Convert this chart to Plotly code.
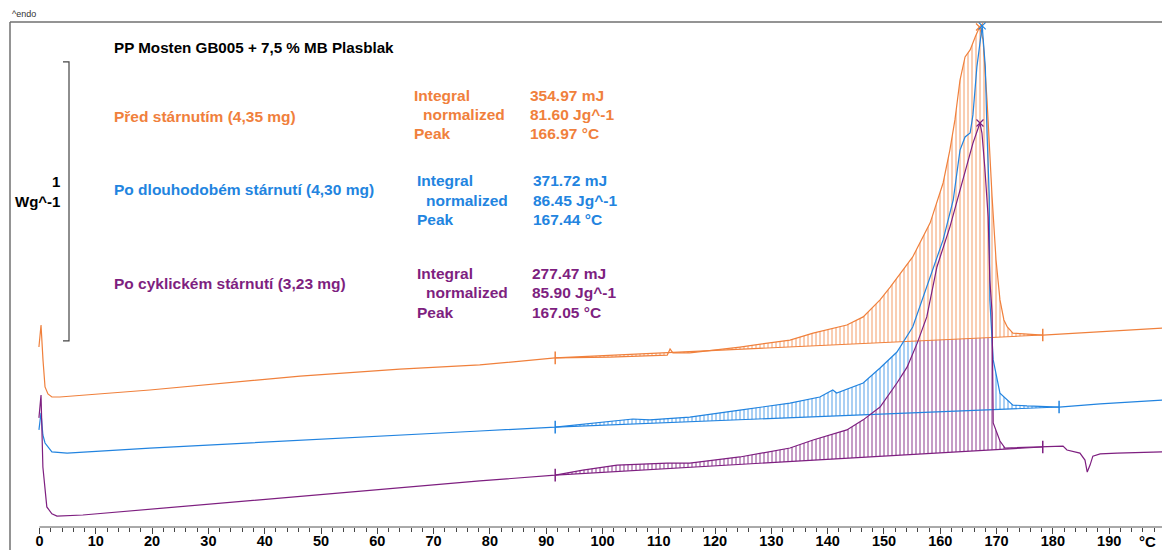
import numpy as np
import plotly.graph_objects as go

# ---------------- data (temperature in °C, heat flow in W/g, offset curves) ----------------
temp_orange = [-0.1, 0.27, 0.62, 0.98, 1.5, 2.2, 3.6, 19.6, 46.3, 64.0, 78.2, 91.6, 101.3, 106.7,
               111.5, 112.0, 112.5, 115.5, 124.4, 133.3, 137.4, 143.4, 146.3, 149.3, 151.1, 155.1,
               158.2, 160.5, 161.7, 162.6, 163.5, 164.4, 165.3, 166.2, 166.97, 167.6, 168.3, 169.2,
               169.9, 170.6, 171.3, 171.9, 172.9, 178.2, 188.4, 199.4]
hf_orange = [0.645, 0.724, 0.599, 0.502, 0.477, 0.466, 0.466, 0.491, 0.541, 0.566, 0.581, 0.606,
             0.609, 0.613, 0.616, 0.638, 0.624, 0.624, 0.645, 0.670, 0.695, 0.724, 0.753, 0.814,
             0.860, 0.968, 1.090, 1.233, 1.351, 1.459, 1.602, 1.685, 1.710, 1.756, 1.792, 1.746,
             1.530, 1.183, 0.957, 0.814, 0.742, 0.717, 0.695, 0.688, 0.699, 0.713]

temp_blue = [-0.1, 0.27, 0.6, 0.98, 2.2, 4.9, 19.6, 46.3, 64.0, 78.2, 91.6, 99.6, 105.4, 108.4,
             115.5, 124.4, 133.3, 138.6, 140.4, 140.9, 141.6, 146.3, 149.3, 152.3, 155.1, 158.2,
             160.5, 162.3, 163.5, 164.4, 165.3, 165.8, 166.5, 167.44, 168.0, 168.3, 168.7, 168.8,
             169.4, 170.6, 172.9, 175.4, 181.1, 188.4, 199.4]
hf_blue = [0.348, 0.409, 0.330, 0.301, 0.269, 0.265, 0.283, 0.312, 0.330, 0.344, 0.358, 0.376,
           0.387, 0.384, 0.394, 0.419, 0.444, 0.466, 0.484, 0.491, 0.480, 0.516, 0.570, 0.627,
           0.717, 0.896, 1.029, 1.172, 1.351, 1.398, 1.412, 1.477, 1.649, 1.796, 1.649, 1.412,
           1.183, 0.814, 0.599, 0.480, 0.437, 0.434, 0.430, 0.441, 0.455]

temp_purple = [-0.1, 0.27, 0.6, 1.3, 2.2, 3.1, 7.7, 46.3, 64.0, 78.2, 91.6, 96.5, 102.6, 111.5,
               115.5, 124.4, 133.3, 137.4, 143.4, 146.3, 149.3, 152.3, 154.1, 155.9, 157.6, 159.4,
               161.7, 163.5, 164.7, 165.8, 167.05, 167.4, 167.9, 168.5, 168.8, 169.2, 169.4, 170.1,
               170.6, 171.5, 178.2, 181.8, 182.5, 184.8, 185.7, 186.1, 186.6, 187.1, 188.4, 191.4,
               199.4]
hf_purple = [0.391, 0.473, 0.215, 0.072, 0.047, 0.039, 0.043, 0.111, 0.140, 0.165, 0.186, 0.204,
             0.222, 0.229, 0.229, 0.251, 0.283, 0.312, 0.348, 0.384, 0.430, 0.516, 0.573, 0.659,
             0.753, 0.932, 1.075, 1.208, 1.290, 1.376, 1.448, 1.412, 1.290, 1.111, 0.885, 0.767,
             0.373, 0.337, 0.308, 0.283, 0.287, 0.290, 0.276, 0.265, 0.240, 0.197, 0.222, 0.254,
             0.262, 0.265, 0.269]

# integration limits and peaks
limits_orange = (91.6, 178.2)
limits_blue = (91.6, 181.1)
limits_purple = (91.6, 178.2)
peak_orange, peak_blue, peak_purple = 166.97, 167.44, 167.05

labels = ["Před stárnutím (4,35 mg)", "Po dlouhodobém stárnutí (4,30 mg)",
          "Po cyklickém stárnutí (3,23 mg)"]
results_keys = ["Integral", "normalized", "Peak"]
results_orange = ["354.97 mJ", "81.60 Jg^-1", "166.97 °C"]
results_blue = ["371.72 mJ", "86.45 Jg^-1", "167.44 °C"]
results_purple = ["277.47 mJ", "85.90 Jg^-1", "167.05 °C"]

tick_vals = list(range(0, 200, 10))
minor_vals = list(range(0, 200, 2))

# ---------------- style ----------------
ORANGE = "#F0803C"
BLUE = "#2284E0"
PURPLE = "#7E1F80"
HATCH = {ORANGE: "rgba(240,128,60,0.7)", BLUE: "rgba(34,132,224,0.7)",
         PURPLE: "rgba(126,31,128,0.8)"}
FONT = "Liberation Sans, Arial, sans-serif"

W, H = 1162, 550
ML, MR, MT, MB = 10, 0, 22, 23
PW, PH = W - ML - MR, H - MT - MB


def pxx(x):
    return (x - ML) / PW


def pxy(y):
    return (H - MB - y) / PH


series = {
    "orange": (temp_orange, hf_orange, ORANGE, limits_orange, peak_orange),
    "blue": (temp_blue, hf_blue, BLUE, limits_blue, peak_blue),
    "purple": (temp_purple, hf_purple, PURPLE, limits_purple, peak_purple),
}

fig = go.Figure()

# hatched integration areas (blue, purple, orange stacking order)
for key in ["blue", "purple", "orange"]:
    T, V, col, (t0, t1), pk = series[key]
    T = np.array(T)
    V = np.array(V)
    m = (T >= t0) & (T <= t1)
    v0 = V[T == t0][0]
    v1 = V[T == t1][0]
    fig.add_trace(go.Scatter(x=[t0, t1], y=[v0, v1], mode="lines", line=dict(width=0, color=col),
                             hoverinfo="skip", showlegend=False))
    fig.add_trace(go.Scatter(x=T[m], y=V[m], mode="lines", line=dict(width=0, color=col),
                             fill="tonexty", fillcolor="white",
                             fillpattern=dict(shape="|", size=4, solidity=0.28,
                                              fgcolor=HATCH[col], bgcolor="white",
                                              fillmode="replace"),
                             hoverinfo="skip", showlegend=False))

# curves, baselines and markers
for key in ["orange", "blue", "purple"]:
    T, V, col, (t0, t1), pk = series[key]
    T = np.array(T)
    V = np.array(V)
    v0 = V[T == t0][0]
    v1 = V[T == t1][0]
    fig.add_trace(go.Scatter(x=T, y=V, mode="lines", line=dict(width=1.2, color=col),
                             showlegend=False))
    fig.add_trace(go.Scatter(x=[t0, t1], y=[v0, v1], mode="lines", line=dict(width=1.1, color=col),
                             showlegend=False))
    fig.add_trace(go.Scatter(x=[t0, t1], y=[v0, v1], mode="markers",
                             marker=dict(symbol="line-ns-open", size=9, color=col,
                                         line=dict(width=1.5, color=col)),
                             showlegend=False))
    fig.add_trace(go.Scatter(x=[pk], y=[V[T == pk][0]], mode="markers",
                             marker=dict(symbol="x-thin-open", size=7, color=col,
                                         line=dict(width=1.2, color=col)),
                             showlegend=False))

# ---------------- annotations ----------------
ann = []


def text(x, y, s, color="black", size=15.5, bold=True, anchor="left"):
    ann.append(dict(x=pxx(x), y=pxy(y), xref="paper", yref="paper", text=s, showarrow=False,
                    xanchor=anchor, yanchor="middle",
                    font=dict(family=FONT, size=size, color=color,
                              weight="bold" if bold else "normal")))


text(10, 14, "^endo", color="#333", size=9, bold=False)
text(112, 47, "PP Mosten GB005 + 7,5 % MB Plasblak", size=15.2)
text(62, 182, "1", size=15, anchor="right")
text(62, 201, "Wg^-1", size=15, anchor="right")

text(112, 116, labels[0], ORANGE)
text(112, 190, labels[1], BLUE)
text(112, 283, labels[2], PURPLE)

blocks = [(ORANGE, results_orange, 412, 528, [95, 114, 133]),
          (BLUE, results_blue, 415, 531, [181, 200, 219]),
          (PURPLE, results_purple, 415, 530, [273, 292, 312])]
for col, vals, xk, xv, ys in blocks:
    for i, (k, v) in enumerate(zip(results_keys, vals)):
        text(xk + (9 if i == 1 else 0), ys[i], k, col)
        text(xv, ys[i], v, col)

text(1137, 541, "°C", size=15)

# ---------------- shapes ----------------
shapes = [
    # frame
    dict(type="line", xref="paper", yref="paper", x0=0, x1=1, y0=1, y1=1,
         line=dict(color="#707070", width=1.5)),
    dict(type="line", xref="paper", yref="paper", x0=0, x1=0, y0=1, y1=-MB / PH,
         line=dict(color="#707070", width=1.5)),
    # temperature axis line
    dict(type="line", xref="x", yref="paper", x0=0, x1=199.4, y0=0, y1=0,
         line=dict(color="#555", width=1)),
    # 1 W/g scale bar
    dict(type="path", xref="x", yref="y",
         path="M 4.17,1.667 L 5.24,1.667 L 5.24,0.667 L 4.17,0.667",
         line=dict(color="#444", width=1.2)),
]

fig.update_layout(
    width=W, height=H,
    margin=dict(l=ML, r=MR, t=MT, b=MB, autoexpand=False),
    paper_bgcolor="white", plot_bgcolor="white",
    showlegend=False,
    annotations=ann, shapes=shapes,
    xaxis=dict(range=[-5.24, 199.38], tickmode="array", tickvals=tick_vals,
               ticktext=[str(v) for v in tick_vals], ticks="outside", ticklen=6,
               tickwidth=1, tickcolor="#444", showline=False, showgrid=False, zeroline=False,
               ticklabelstandoff=-5,
               tickfont=dict(family=FONT, size=14.5, color="black", weight="bold"),
               minor=dict(tickmode="array", tickvals=minor_vals, ticks="outside", ticklen=4,
                          tickcolor="#444", tickwidth=1, showgrid=False),
               automargin=False, fixedrange=True),
    yaxis=dict(range=[0, 1.81], visible=False, automargin=False, fixedrange=True),
)

fig.write_html("out.html")
